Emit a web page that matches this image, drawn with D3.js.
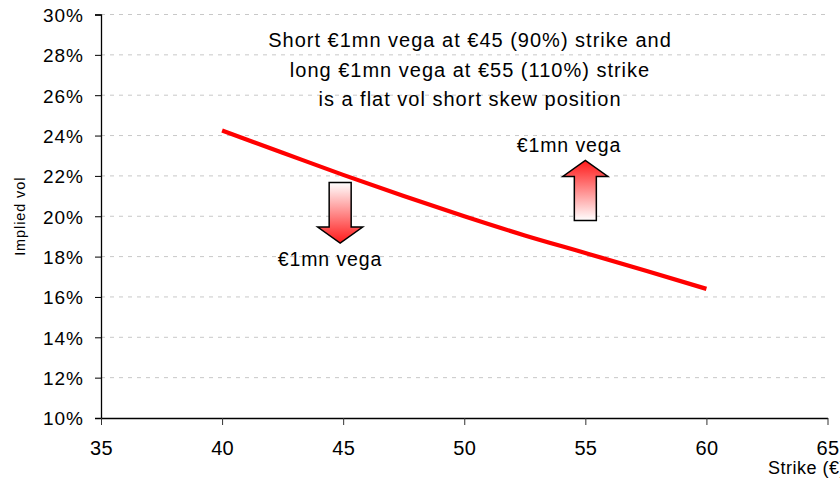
<!DOCTYPE html>
<html>
<head>
<meta charset="utf-8">
<script src="https://cdn.jsdelivr.net/npm/d3@7"></script>
<style>
  html, body { margin: 0; padding: 0; background: #fff; }
  svg { display: block; font-family: "Liberation Sans", Arial, sans-serif; }
</style>
</head>
<body>
<svg id="chart" width="840" height="479"></svg>
<script>
// Strike (€) against implied vol, with skew falling from low to high strikes
const strikes = [40, 42.5, 45, 47.5, 50, 52.5, 55, 57.5, 60];
const impliedVol = [24.25, 23.15, 22.05, 21.0, 20.0, 19.05, 18.18, 17.3, 16.4];

const xTicks = [35, 40, 45, 50, 55, 60, 65];
const yTicks = [10, 12, 14, 16, 18, 20, 22, 24, 26, 28, 30];

const noteLines = [
  "Short €1mn vega at €45 (90%) strike and",
  "long €1mn vega at €55 (110%) strike",
  "is a flat vol short skew position"
];
// Vega positions: short at the 45 strike, long at the 55 strike
const vegaLabel = "€1mn vega";
const positions = [
  { strike: 45, dir: "down" },
  { strike: 55, dir: "up" }
];

const svg = d3.select("#chart");
const x = d3.scaleLinear().domain([35, 65]).range([101, 827.5]);
const y = d3.scaleLinear().domain([10, 30]).range([418, 14.5]);

// Horizontal dashed gridlines
svg.append("g")
  .selectAll("line")
  .data(yTicks.filter(d => d > 10))
  .join("line")
  .attr("x1", x(35)).attr("x2", x(65))
  .attr("y1", d => y(d)).attr("y2", d => y(d))
  .attr("stroke", "#c8c8c8")
  .attr("stroke-width", 1)
  .attr("stroke-dasharray", "4,5");

// Y axis
const yAxis = svg.append("g")
  .attr("transform", `translate(${x(35)},0)`)
  .call(d3.axisLeft(y).tickValues(yTicks).tickFormat(d => d + "%").tickSize(6).tickPadding(11));
yAxis.select(".domain").attr("stroke", "#000").attr("stroke-width", 1.3);
yAxis.selectAll(".tick line").attr("stroke", "#000");
yAxis.selectAll(".tick text")
  .attr("font-size", 19).attr("letter-spacing", 1)
  .attr("fill", "#000").attr("font-family", "Liberation Sans, Arial, sans-serif")
  .attr("dy", "0.36em");

// X axis
const xAxis = svg.append("g")
  .attr("transform", `translate(0,${y(10)})`)
  .call(d3.axisBottom(x).tickValues(xTicks).tickSize(7).tickPadding(16).tickSizeOuter(0));
xAxis.select(".domain").attr("stroke", "#000").attr("stroke-width", 1.3);
xAxis.selectAll(".tick line").attr("stroke", "#333");
xAxis.selectAll(".tick text")
  .attr("font-size", 20).attr("letter-spacing", 0.3)
  .attr("fill", "#000").attr("font-family", "Liberation Sans, Arial, sans-serif")
  .attr("dy", "0.71em");

// Axis titles
svg.append("text")
  .attr("transform", `translate(25,${y(20)}) rotate(-90)`)
  .attr("text-anchor", "middle")
  .attr("font-size", 14.5).attr("letter-spacing", 0.9)
  .text("Implied vol");

svg.append("text")
  .attr("x", 768).attr("y", 474)
  .attr("font-size", 18).attr("letter-spacing", 0.5)
  .text("Strike (€)");

// Vol skew curve
const line = d3.line()
  .x((d, i) => x(strikes[i]))
  .y(d => y(d))
  .curve(d3.curveMonotoneX);

svg.append("path")
  .datum(impliedVol)
  .attr("d", line)
  .attr("fill", "none")
  .attr("stroke", "#ff0000")
  .attr("stroke-width", 4.2);

// Explanatory note
svg.append("g")
  .selectAll("text")
  .data(noteLines)
  .join("text")
  .attr("x", 470)
  .attr("y", (d, i) => 47 + i * 29.5)
  .attr("text-anchor", "middle")
  .attr("font-size", 20).attr("letter-spacing", 1)
  .text(d => d);

// Gradient fills for the vega arrows
const defs = svg.append("defs");
const gDown = defs.append("linearGradient").attr("id", "gradDown")
  .attr("x1", 0).attr("y1", 0).attr("x2", 0).attr("y2", 1);
gDown.append("stop").attr("offset", "0%").attr("stop-color", "#ffffff");
gDown.append("stop").attr("offset", "100%").attr("stop-color", "#ff1a1a");
const gUp = defs.append("linearGradient").attr("id", "gradUp")
  .attr("x1", 0).attr("y1", 1).attr("x2", 0).attr("y2", 0);
gUp.append("stop").attr("offset", "0%").attr("stop-color", "#ffffff");
gUp.append("stop").attr("offset", "100%").attr("stop-color", "#ff1a1a");

// Block arrow: shaft from yStart, head ending at yEnd
function arrowPath(cx, yStart, yEnd, headLen) {
  const sw = 11, hw = 22.5;
  const dir = yEnd > yStart ? 1 : -1;
  const yh = yEnd - dir * headLen;
  return `M${cx - sw},${yStart} L${cx + sw},${yStart} L${cx + sw},${yh} L${cx + hw},${yh} ` +
         `L${cx},${yEnd} L${cx - hw},${yh} L${cx - sw},${yh} Z`;
}

positions.forEach(p => {
  const cx = x(p.strike) - (p.dir === "down" ? 3 : 0);
  if (p.dir === "down") {
    svg.append("path")
      .attr("d", arrowPath(cx, 182.5, 243, 16))
      .attr("fill", "url(#gradDown)")
      .attr("stroke", "#000").attr("stroke-width", 1.5)
      .attr("stroke-linejoin", "miter");
    svg.append("text")
      .attr("x", 330).attr("y", 266)
      .attr("text-anchor", "middle")
      .attr("font-size", 19.5).attr("letter-spacing", 0.9)
      .text(vegaLabel);
  } else {
    svg.append("path")
      .attr("d", arrowPath(cx, 220.5, 160.5, 16))
      .attr("fill", "url(#gradUp)")
      .attr("stroke", "#000").attr("stroke-width", 1.5)
      .attr("stroke-linejoin", "miter");
    svg.append("text")
      .attr("x", 569).attr("y", 152)
      .attr("text-anchor", "middle")
      .attr("font-size", 19.5).attr("letter-spacing", 0.9)
      .text(vegaLabel);
  }
});
</script>
</body>
</html>
